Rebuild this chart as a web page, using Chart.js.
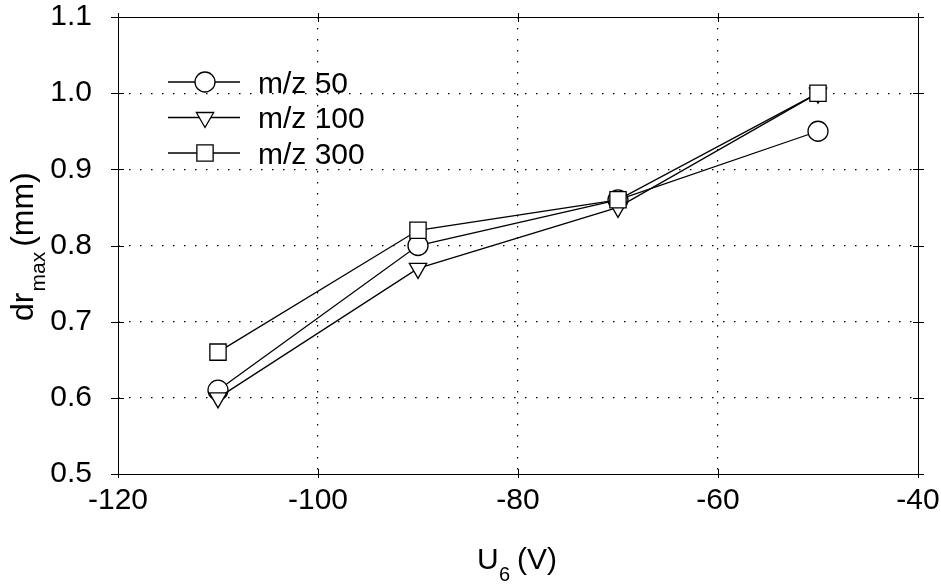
<!DOCTYPE html>
<html>
<head>
<meta charset="utf-8">
<script src="https://cdn.jsdelivr.net/npm/chart.js@4.4.1/dist/chart.umd.min.js"></script>
<style>
    body { margin: 0; background: #fff; }
</style>
</head>
<body>
<canvas id="chart" width="941" height="585"></canvas>
<script>
// values
const voltages = [-110, -90, -70, -50];
const mz50 = [0.61, 0.80, 0.86, 0.95];
const mz100 = [0.60, 0.77, 0.85, 1.00];
const mz300 = [0.66, 0.82, 0.86, 1.00];
const seriesNames = ['m/z 50', 'm/z 100', 'm/z 300'];
const xTicks = [-120, -100, -80, -60, -40];
const yTicks = [0.5, 0.6, 0.7, 0.8, 0.9, 1.0, 1.1];

const FONT = "'Liberation Sans', Arial, sans-serif";
const SIZE = 30;

function points(values) {
    return voltages.map((v, i) => ({ x: v, y: values[i] }));
}

const markers = [
    { style: 'circle', radius: 10, rotation: 0 },
    { style: 'triangle', radius: 10, rotation: 180 },
    { style: 'rect', radius: 11.5, rotation: 0 }
];

function makeSet(i, values, order) {
    return {
        label: seriesNames[i],
        data: points(values),
        borderColor: '#000',
        borderWidth: 1.3,
        pointStyle: markers[i].style,
        pointRadius: markers[i].radius,
        pointHoverRadius: markers[i].radius,
        pointRotation: markers[i].rotation,
        pointBackgroundColor: '#fff',
        pointBorderColor: '#000',
        pointBorderWidth: 1.3,
        tension: 0,
        order: order
    };
}

// draws frame, crossing ticks, the inside legend and the axis titles
const decorations = {
    id: 'decorations',
    afterDraw(chart) {
        const ctx = chart.ctx;
        const area = chart.chartArea;
        const xs = chart.scales.x;
        const ys = chart.scales.y;

        ctx.save();
        ctx.strokeStyle = '#000';
        ctx.lineWidth = 1;
        ctx.strokeRect(area.left + 0.5, area.top + 0.5, area.right - area.left, area.bottom - area.top);

        ctx.beginPath();
        xTicks.forEach(v => {
            const px = Math.round(xs.getPixelForValue(v)) + 0.5;
            ctx.moveTo(px, area.bottom - 5); ctx.lineTo(px, area.bottom + 4);
            ctx.moveTo(px, area.top - 4); ctx.lineTo(px, area.top + 5);
        });
        yTicks.forEach(v => {
            const py = Math.round(ys.getPixelForValue(v)) + 0.5;
            ctx.moveTo(area.left - 7, py); ctx.lineTo(area.left + 6, py);
            ctx.moveTo(area.right - 5, py); ctx.lineTo(area.right + 6, py);
        });
        ctx.stroke();

        // legend
        ctx.font = SIZE + 'px ' + FONT;
        ctx.textBaseline = 'alphabetic';
        ctx.textAlign = 'left';
        chart.data.datasets.forEach((ds, i) => {
            const y = 82 + i * 35.5;
            ctx.beginPath();
            ctx.lineWidth = 1.3;
            ctx.moveTo(168, y);
            ctx.lineTo(240, y);
            ctx.stroke();
            ctx.fillStyle = '#fff';
            Chart.helpers.drawPoint(ctx, {
                pointStyle: markers[i].style,
                radius: markers[i].radius,
                rotation: markers[i].rotation,
                borderWidth: 1.3
            }, 205, y);
            ctx.fillStyle = '#000';
            ctx.fillText(ds.label, 258, y + 10.5);
        });

        // x title: U6 (V)
        ctx.fillStyle = '#000';
        ctx.font = SIZE + 'px ' + FONT;
        ctx.fillText('U', 477, 569);
        ctx.font = '20px ' + FONT;
        ctx.fillText('6', 499, 581);
        ctx.font = SIZE + 'px ' + FONT;
        ctx.fillText('(V)', 517, 569);

        // y title: dr max (mm)
        ctx.translate(33, 321);
        ctx.rotate(-Math.PI / 2);
        let t = 0;
        ctx.font = '32px ' + FONT;
        ctx.fillText('dr', t, 0);
        t += ctx.measureText('dr').width + 1;
        ctx.font = '21px ' + FONT;
        ctx.fillText('max', t, 12);
        t += ctx.measureText('max').width + 5;
        ctx.font = '32px ' + FONT;
        ctx.fillText('(mm)', t, 0);
        ctx.restore();
    }
};

function gridColor(list) {
    return function (c) {
        if (!c.tick) return 'transparent';
        const v = Math.round(c.tick.value * 100) / 100;
        if (v === list[0] || v === list[list.length - 1]) return 'transparent';
        return '#000';
    };
}

new Chart(document.getElementById('chart'), {
    type: 'line',
    data: {
        datasets: [
            makeSet(0, mz50, 3),
            makeSet(1, mz100, 2),
            makeSet(2, mz300, 1)
        ]
    },
    options: {
        responsive: false,
        animation: false,
        layout: { padding: { top: 17, right: 23, left: 0, bottom: 0 } },
        plugins: {
            legend: { display: false },
            tooltip: { enabled: false }
        },
        scales: {
            x: {
                type: 'linear',
                min: -120,
                max: -40,
                afterFit: s => {
                    s.height = 111;
                    s.paddingLeft = 0;
                    s.paddingRight = 0;
                },
                afterBuildTicks: s => { s.ticks = xTicks.map(v => ({ value: v })); },
                ticks: {
                    color: '#000',
                    padding: 9,
                    font: { family: FONT, size: SIZE }
                },
                grid: { color: gridColor(xTicks), lineWidth: 1.2, drawTicks: false },
                border: { display: false, dash: [1.5, 9.5] }
            },
            y: {
                min: 0.5,
                max: 1.1,
                afterFit: s => {
                    s.width = 118;
                    s.paddingTop = 0;
                    s.paddingBottom = 0;
                },
                afterBuildTicks: s => { s.ticks = yTicks.map(v => ({ value: v })); },
                ticks: {
                    color: '#000',
                    padding: 26,
                    font: { family: FONT, size: SIZE },
                    callback: v => v.toFixed(1)
                },
                grid: { color: gridColor(yTicks), lineWidth: 1.2, drawTicks: false },
                border: { display: false, dash: [1.5, 9.5] }
            }
        }
    },
    plugins: [decorations]
});
</script>
</body>
</html>
